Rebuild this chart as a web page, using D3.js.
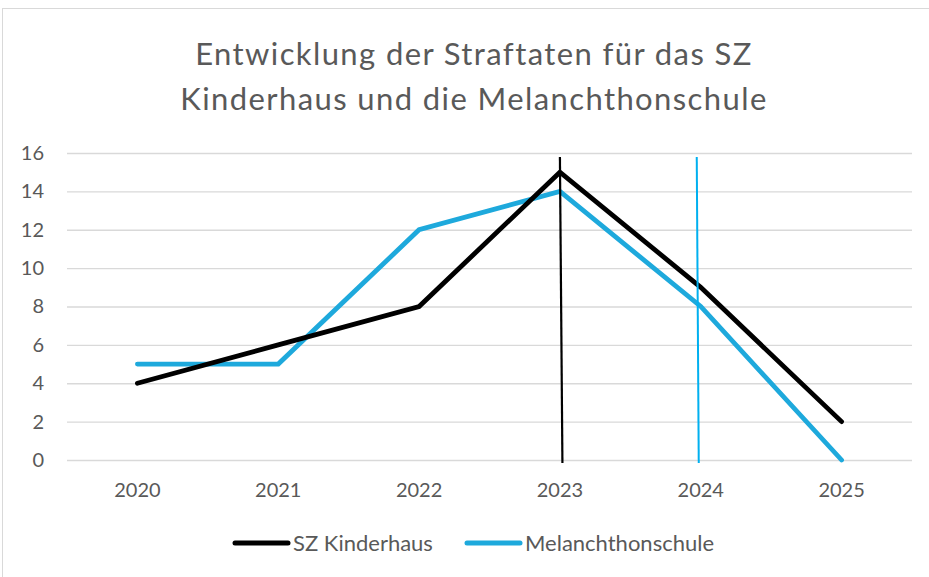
<!DOCTYPE html>
<html><head><meta charset="utf-8">
<script src="https://cdn.jsdelivr.net/npm/d3@7"></script>
<style>body{margin:0;background:#fff;}svg{display:block;font-family:Lato,"Open Sans",sans-serif;}</style>
</head><body>
<svg id="c" width="929" height="577"></svg>
<script>
const years = ["2020","2021","2022","2023","2024","2025"];
const kinderhaus = [4, 6, 8, 15, 9, 2];
const melanchthon = [5, 5, 12, 14, 8, 0];
const yTicks = [0, 2, 4, 6, 8, 10, 12, 14, 16];
const seriesNames = ["SZ Kinderhaus", "Melanchthonschule"];
const seriesColors = ["#000000", "#1ea9dc"];
const titleLines = ["Entwicklung der Straftaten für das SZ", "Kinderhaus und die Melanchthonschule"];
const markerYears = ["2023", "2024"];
const markerColors = ["#000000", "#00b0f0"];

(function(){
const svg = d3.select("#c");
svg.append("rect").attr("x",2.5).attr("y",8.5).attr("width",940).attr("height",580)
  .attr("fill","#fff").attr("stroke","#d9d9d9");

const pl = 67, pr = 912, pt = 153, pb = 460;
const x = d3.scaleBand().domain(years).range([pl, pr]);
const xc = d => x(d) + x.bandwidth()/2;
const y = d3.scaleLinear().domain([0,16]).range([pb, pt]);

svg.append("g").selectAll("text").data(titleLines).join("text")
  .attr("x", 474).attr("y",(d,i)=>65+i*45).attr("text-anchor","middle")
  .attr("font-size",31).attr("letter-spacing",1.4).attr("fill","#595959").text(d=>d);

const ga = svg.append("g").attr("transform",`translate(${pl},0)`)
  .call(d3.axisLeft(y).tickValues(yTicks).tickSize(-(pr-pl)).tickPadding(23));
ga.select(".domain").remove();
ga.selectAll(".tick line").attr("stroke","#d9d9d9").attr("stroke-width",1.3);
ga.selectAll(".tick text").attr("font-size",20).attr("fill","#595959").attr("font-family","Lato,sans-serif");

const gx = svg.append("g").attr("transform",`translate(0,${pb})`)
  .call(d3.axisBottom(x).tickSize(0).tickPadding(23));
gx.select(".domain").remove();
gx.selectAll(".tick text").attr("font-size",20).attr("fill","#595959").attr("font-family","Lato,sans-serif");

const line = d3.line().x((d,i)=>xc(years[i])).y(d=>y(d));
[melanchthon, kinderhaus].forEach((s,k)=>{
  const idx = k===0 ? 1 : 0;
  svg.append("path").attr("d", line(s)).attr("fill","none")
    .attr("stroke", seriesColors[idx]).attr("stroke-width",4.8)
    .attr("stroke-linejoin","miter").attr("stroke-linecap","round");
});

const offs = [[0,2.5],[-4,-2]];
markerYears.forEach((yr,i)=>{
  svg.append("line").attr("x1",xc(yr)+offs[i][0]).attr("x2",xc(yr)+offs[i][1])
    .attr("y1",y(16)+4).attr("y2",y(0)+3)
    .attr("stroke",markerColors[i]).attr("stroke-width",i===0?2.2:2);
});

const lg = svg.append("g");
const legX = [233, 465];
seriesNames.forEach((n,i)=>{
  lg.append("line").attr("x1",legX[i]+2).attr("x2",legX[i]+55).attr("y1",543).attr("y2",543)
    .attr("stroke",seriesColors[i]).attr("stroke-width",5).attr("stroke-linecap","round");
  lg.append("text").attr("x",legX[i]+60).attr("y",551).attr("font-size",22).attr("fill","#595959").text(n);
});
})();
</script>
</body></html>
